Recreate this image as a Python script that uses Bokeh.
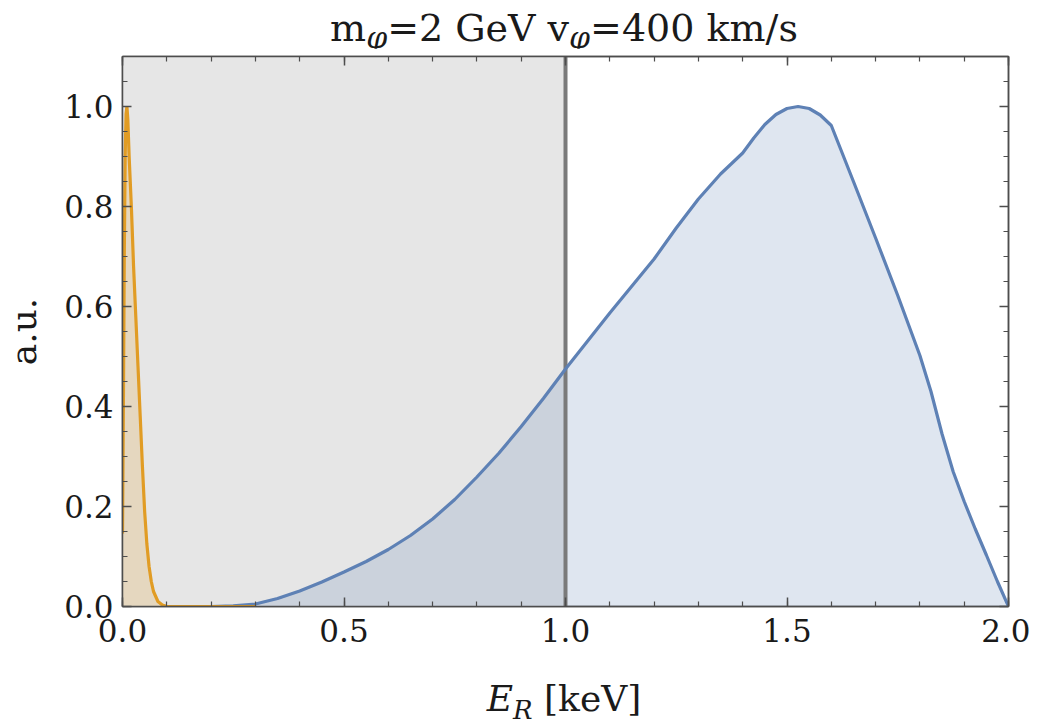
from bokeh.plotting import figure
from bokeh.models import Range1d, FixedTicker, LinearAxis, Div
from bokeh.layouts import column
from bokeh.embed import file_html
from bokeh.resources import INLINE

# ---- data ----
blue_x = [0.2, 0.25, 0.3, 0.35, 0.4, 0.45, 0.5, 0.55, 0.6, 0.65, 0.7, 0.75, 0.8, 0.85,
          0.9, 0.95, 1.0, 1.05, 1.1, 1.15, 1.2, 1.25, 1.3, 1.35, 1.4, 1.425, 1.45, 1.475,
          1.5, 1.525, 1.55, 1.575, 1.6, 1.65, 1.7, 1.75, 1.8, 1.825, 1.85, 1.875, 1.9,
          1.925, 1.95, 1.975, 2.0]
blue_y = [0.0, 0.0015, 0.005, 0.016, 0.031, 0.049, 0.069, 0.09, 0.114, 0.142, 0.175, 0.214,
          0.259, 0.307, 0.36, 0.416, 0.475, 0.531, 0.587, 0.641, 0.695, 0.757, 0.815, 0.865,
          0.907, 0.937, 0.964, 0.984, 0.996, 1.0, 0.996, 0.983, 0.962, 0.85, 0.737, 0.622,
          0.502, 0.43, 0.345, 0.27, 0.21, 0.155, 0.103, 0.05, 0.0]

orange_x = [0.0, 0.002, 0.004, 0.006, 0.008, 0.010, 0.012, 0.015, 0.02, 0.025, 0.03, 0.035,
            0.04, 0.045, 0.05, 0.055, 0.06, 0.065, 0.07, 0.08, 0.09, 0.1, 0.2, 0.3]
orange_y = [0.146, 0.4, 0.7, 0.9, 0.985, 1.0, 0.975, 0.9, 0.8, 0.68, 0.58, 0.48, 0.38, 0.28,
            0.19, 0.125, 0.08, 0.05, 0.03, 0.01, 0.003, 0.0, 0.0, 0.0]

threshold = 1.0
x_lim = (0.0, 2.0)
y_lim = (0.0, 1.1)
x_major = [0.0, 0.5, 1.0, 1.5, 2.0]
x_minor = [round(i * 0.1, 1) for i in range(21)]
y_major = [0.0, 0.2, 0.4, 0.6, 0.8, 1.0]
y_minor = [round(i * 0.05, 2) for i in range(23)]
x_tick_labels = ["0.0", "0.5", "1.0", "1.5", "2.0"]
y_tick_labels = ["0.0", "0.2", "0.4", "0.6", "0.8", "1.0"]

title_main = ["m", "=2 GeV v", "=400 km/s"]
title_sub = "\u03c6"
xlabel_var, xlabel_sub, xlabel_unit = "E", "R", "[keV]"
ylabel = "a.u."

BLUE = "#5E81B5"
ORANGE = "#E19C24"
FONT = "DejaVu Serif"
FRAME = "#4d4d4d"
TXT = "#1a1a1a"

p = figure(width=1030, height=628, output_backend="svg", toolbar_location=None,
           x_range=Range1d(*x_lim), y_range=Range1d(*y_lim), title=None,
           min_border_left=120, min_border_right=22, min_border_top=8, min_border_bottom=70)
p.grid.visible = False
p.background_fill_color = "white"
p.border_fill_color = "white"
p.outline_line_color = FRAME
p.outline_line_width = 1.5

p.quad(left=[x_lim[0]], right=[threshold], bottom=[y_lim[0]], top=[y_lim[1]],
       fill_color="#e6e6e6", line_color=None)
p.varea(x=orange_x, y1=[0] * len(orange_x), y2=orange_y, fill_color=ORANGE, fill_alpha=0.2)
p.varea(x=blue_x, y1=[0] * len(blue_x), y2=blue_y, fill_color=BLUE, fill_alpha=0.2)
p.segment(x0=[threshold], y0=[y_lim[0]], x1=[threshold], y1=[y_lim[1]],
          line_color="#7a7a7a", line_width=4)
p.line(blue_x, blue_y, line_color=BLUE, line_width=3.2)
p.line(orange_x, orange_y, line_color=ORANGE, line_width=3.2)

def style_axis(ax, show_labels, labels=None, ticks=None):
    ax.axis_line_color = FRAME
    ax.axis_line_width = 1.5
    ax.major_tick_in = 9
    ax.major_tick_out = 0
    ax.minor_tick_in = 5
    ax.minor_tick_out = 0
    ax.major_tick_line_color = FRAME
    ax.minor_tick_line_color = FRAME
    ax.major_tick_line_width = 1.5
    ax.minor_tick_line_width = 1.2
    ax.major_label_text_font = FONT
    ax.major_label_text_font_size = "31px"
    ax.major_label_text_color = TXT
    if show_labels:
        ax.major_label_overrides = {t: s for t, s in zip(ticks, labels)}
    else:
        ax.major_label_overrides = {t: "" for t in ticks}
        ax.major_label_text_font_size = "0px"
        ax.major_label_standoff = 0

p.xaxis.ticker = FixedTicker(ticks=x_major, minor_ticks=x_minor)
p.yaxis.ticker = FixedTicker(ticks=y_major, minor_ticks=y_minor)
style_axis(p.xaxis[0], True, x_tick_labels, x_major)
style_axis(p.yaxis[0], True, y_tick_labels, y_major)
p.xaxis.major_label_standoff = 12
p.yaxis.major_label_standoff = 9
p.yaxis.axis_label = ylabel
p.yaxis.axis_label_text_font = FONT
p.yaxis.axis_label_text_font_size = "36px"
p.yaxis.axis_label_text_font_style = "normal"
p.yaxis.axis_label_text_color = TXT
p.yaxis.axis_label_standoff = 17

top_ax = LinearAxis(ticker=FixedTicker(ticks=x_major, minor_ticks=x_minor))
style_axis(top_ax, False, ticks=x_major)
p.add_layout(top_ax, "above")
right_ax = LinearAxis(ticker=FixedTicker(ticks=y_major, minor_ticks=y_minor))
style_axis(right_ax, False, ticks=y_major)
p.add_layout(right_ax, "right")

sub_t = ('<sub style="font-size:30px;line-height:0;vertical-align:-7px;'
         'font-style:italic">%s</sub>' % title_sub)
title_html = (
    '<div style="margin-left:120px;width:888px;text-align:center;white-space:nowrap;'
    'font-family:\'DejaVu Serif\';font-size:38px;line-height:38px;color:%s;padding-top:9px">'
    '%s%s%s%s%s</div>' % (TXT, title_main[0], sub_t, title_main[1], sub_t, title_main[2]))
xlabel_html = (
    '<div style="margin-left:120px;width:888px;text-align:center;white-space:nowrap;'
    'font-family:\'DejaVu Serif\';font-size:36px;line-height:36px;color:%s;padding-top:5px">'
    '<i>%s</i><sub style="font-size:26px;line-height:0;vertical-align:-8px"><i>%s</i></sub>'
    '&nbsp;%s</div>' % (TXT, xlabel_var, xlabel_sub, xlabel_unit))

title_div = Div(text=title_html, width=1030, height=48, margin=0)
xlabel_div = Div(text=xlabel_html, width=1030, height=44, margin=0)

root = column(title_div, p, xlabel_div, spacing=0)
open("out.html", "w").write(file_html(root, INLINE))
